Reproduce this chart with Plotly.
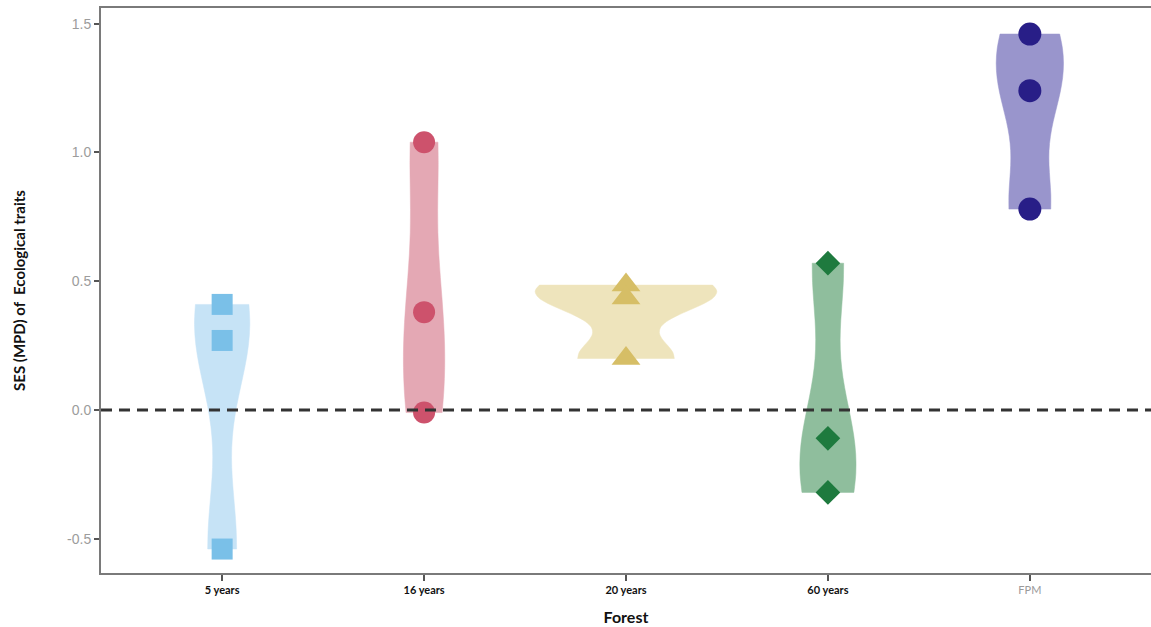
import numpy as np
import plotly.graph_objects as go

categories = ["5 years", "16 years", "20 years", "60 years", "FPM"]
values_5y = [0.41, 0.27, -0.54]
values_16y = [1.04, 0.38, -0.01]
values_20y = [0.485, 0.435, 0.20]
values_60y = [0.57, -0.11, -0.32]
values_fpm = [1.46, 1.24, 0.78]
tick_labels = ["5 years", "16 years", "20 years", "60 years",
               "<span style='color:#9a9a9a;font-weight:normal'>FPM</span>"]
y_ticks = [-0.5, 0.0, 0.5, 1.0, 1.5]

series = [values_5y, values_16y, values_20y, values_60y, values_fpm]
fill_colors = ["rgb(198,227,246)", "rgb(228,168,180)", "rgb(238,228,188)",
               "rgb(143,190,157)", "rgb(153,149,204)"]
point_colors = ["rgb(122,192,232)", "rgb(205,82,108)", "rgb(214,190,102)",
                "rgb(30,122,62)", "rgb(40,30,135)"]
symbols = ["square", "circle", "triangle-up", "diamond", "circle"]
sizes = [21, 22, 25, 19, 23]


def bw_nrd0(v):
    v = np.asarray(v, dtype=float)
    hi = np.std(v, ddof=1)
    q75, q25 = np.percentile(v, [75, 25])
    lo = min(hi, (q75 - q25) / 1.34)
    if lo == 0:
        lo = hi or abs(v[0]) or 1.0
    return 0.9 * lo * len(v) ** (-0.2)


def max_density(v, bw):
    v = np.asarray(v, dtype=float)
    grid = np.linspace(v.min(), v.max(), 512)
    z = (grid[:, None] - v[None, :]) / bw
    dens = np.exp(-0.5 * z ** 2).sum(axis=1) / (len(v) * bw * np.sqrt(2 * np.pi))
    return dens.max()


bws = [bw_nrd0(v) for v in series]
maxd = [max_density(v, b) for v, b in zip(series, bws)]
overall = max(maxd)

fig = go.Figure()
for i, (cat, vals, fc) in enumerate(zip(categories, series, fill_colors)):
    fig.add_trace(go.Violin(
        x=[cat] * len(vals), y=vals,
        fillcolor=fc, line=dict(color=fc, width=0.5),
        opacity=1, points=False, spanmode="hard",
        bandwidth=bws[i], scalegroup="g%d" % i, scalemode="width",
        width=0.9 * maxd[i] / overall, box_visible=False, meanline_visible=False,
        showlegend=False, hoverinfo="skip",
    ))

for cat, vals, pc, sym, sz in zip(categories, series, point_colors, symbols, sizes):
    fig.add_trace(go.Scatter(
        x=[cat] * len(vals), y=vals, mode="markers",
        marker=dict(color=pc, symbol=sym, size=sz, line=dict(width=0)),
        showlegend=False,
    ))

fig.add_shape(type="line", xref="paper", yref="y", x0=0, x1=1, y0=0, y1=0,
              line=dict(color="#333333", width=3, dash="11px,7px"), layer="above")

fig.update_layout(
    width=1151, height=627,
    margin=dict(l=101, r=0, t=8, b=54),
    paper_bgcolor="white", plot_bgcolor="white",
    violinmode="overlay",
    font=dict(family="Liberation Sans, Arial, sans-serif"),
)
fig.update_xaxes(
    type="category", categoryorder="array", categoryarray=categories,
    tickvals=categories, ticktext=tick_labels,
    range=[-0.6, 4.6],
    showline=True, linecolor="#7a7a7a", linewidth=2, mirror=True,
    ticks="outside", ticklen=6, tickwidth=2, tickcolor="#555555",
    tickfont=dict(family="Lato, Open Sans, sans-serif", size=11, color="#111111",
                  weight="bold"),
    showgrid=False, zeroline=False,
    title=dict(text="<b>Forest</b>", font=dict(family="Lato, Open Sans, sans-serif",
                                                size=16, color="#111111"), standoff=17),
)
fig.update_yaxes(
    range=[-0.633, 1.561],
    tickvals=y_ticks, ticktext=["-0.5", "0.0", "0.5", "1.0", "1.5"],
    showline=True, linecolor="#7a7a7a", linewidth=2,
    ticks="outside", ticklen=5, tickwidth=2, tickcolor="#555555",
    tickfont=dict(family="Liberation Sans, Arial, sans-serif", size=14, color="#9c9c9c"),
    showgrid=False, zeroline=False,
    title=dict(text="<b>SES (MPD) of  Ecological traits</b>",
               font=dict(family="Lato, Open Sans, sans-serif", size=15, color="#111111"),
               standoff=38),
)

fig.write_html("out.html", config={"displayModeBar": False},
               post_script="document.body.style.margin='0';document.body.style.overflow='hidden';")
